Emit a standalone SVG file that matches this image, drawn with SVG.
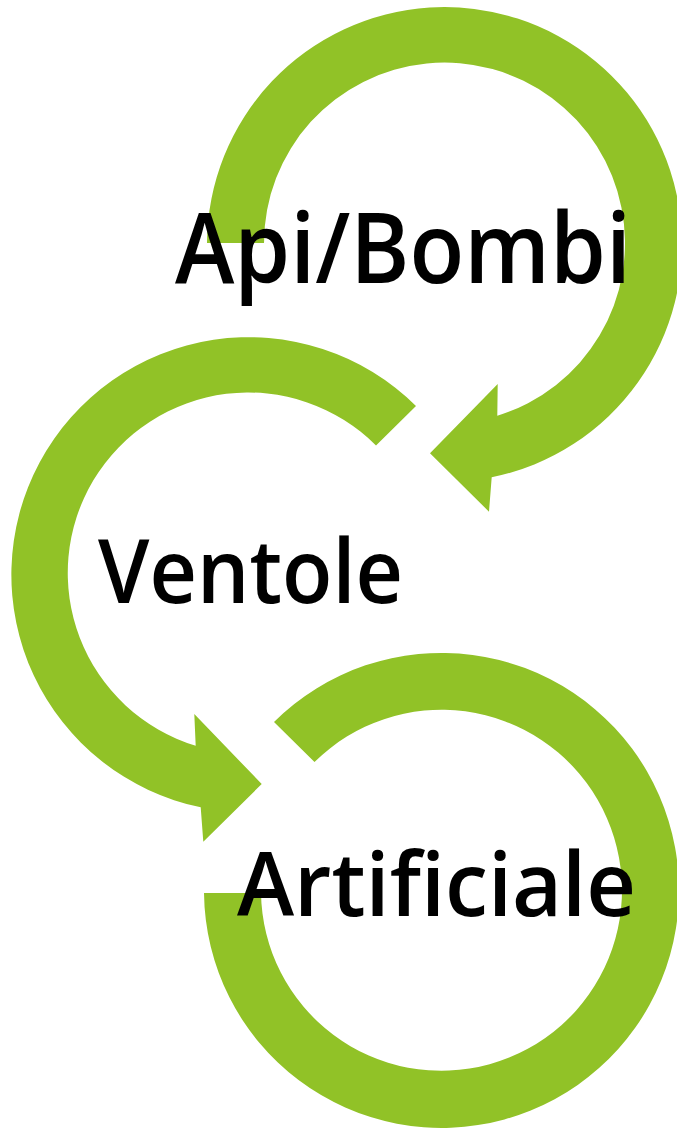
<svg xmlns="http://www.w3.org/2000/svg" width="677" height="1128" viewBox="0 0 677 1128">
<style>
.arc{fill:#91C227;stroke:none}
.lbl{font-family:"Open Sans","Noto Sans","Liberation Sans",sans-serif;font-weight:600;fill:#000}
</style>
<rect width="677" height="1128" fill="#fff"/>
<g id="connectors">
<path id="arc1" class="arc" d="M207,243 A237.5,237.5 0 1 1 491.7,477.3 L489,511.7 L430,453.3 L497.7,384 L497.3,415.7 A180.5,180.5 0 1 0 264,243 Z"/>
<path id="arc2" class="arc" d="M416,406 A237.5,237.5 0 1 0 200.7,807.3 L203.3,841.7 L261.7,784 L194.3,714 L195.7,745.7 A180.5,180.5 0 1 1 376,445.5 Z"/>
<path id="arc3" class="arc" d="M274,722 A237.5,237.5 0 1 1 204,893 L261,893 A180.5,180.5 0 1 0 314.5,762 Z"/>
</g>
<g id="node-api">
<text class="lbl" x="175" y="283" font-size="98" textLength="456" lengthAdjust="spacingAndGlyphs">Api/Bombi</text>
</g>
<g id="node-ventole">
<text class="lbl" x="98" y="603" font-size="88" textLength="305" lengthAdjust="spacingAndGlyphs">Ventole</text>
</g>
<g id="node-artificiale">
<text class="lbl" x="237" y="916" font-size="89" textLength="399" lengthAdjust="spacingAndGlyphs">Artificiale</text>
</g>
</svg>
